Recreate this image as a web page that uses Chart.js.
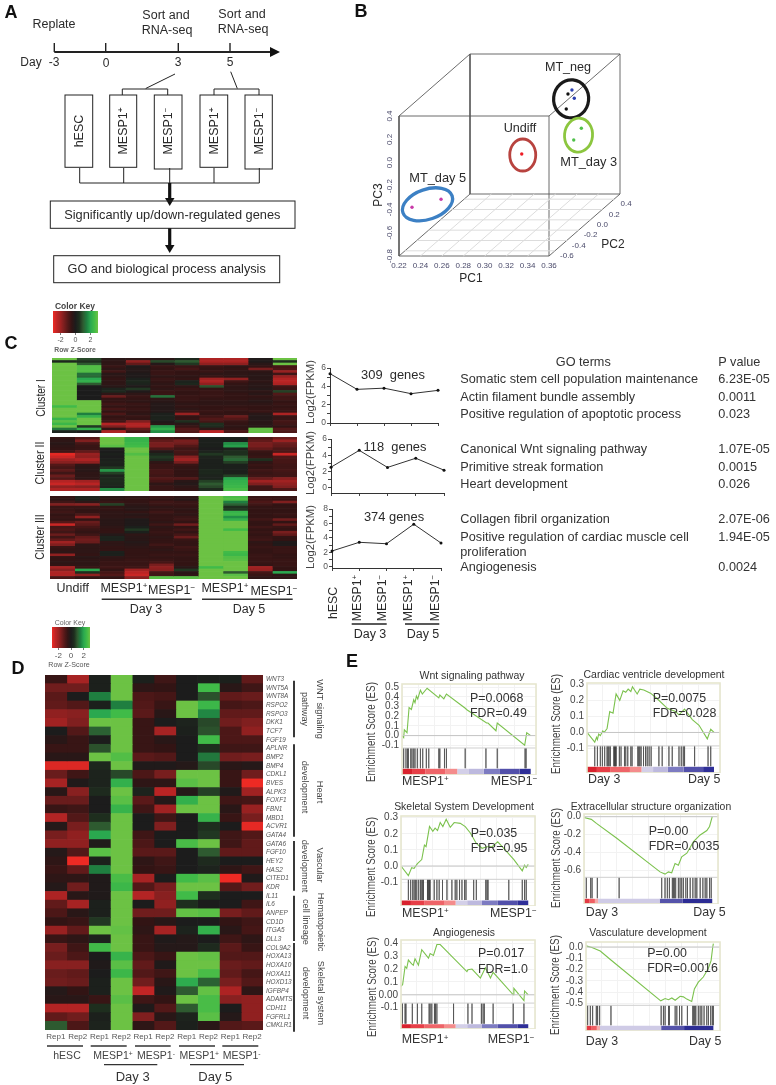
<!DOCTYPE html>
<html>
<head>
<meta charset="utf-8">
<script src="https://cdn.jsdelivr.net/npm/chart.js@4/dist/chart.umd.js"></script>
<style>
  html, body { margin: 0; background: #fff; }
  #page { position: relative; width: 776px; height: 1085px; overflow: hidden; font-family: "Liberation Sans", Arial, sans-serif; }
  #page canvas { position: absolute; }
  #page svg { position: absolute; left: 0; top: 0; pointer-events: none; }
  #page span { position: absolute; white-space: nowrap; line-height: 1; }
  sup { font-size: .65em; line-height: 0; vertical-align: baseline; position: relative; top: -.45em; }
</style>
</head>
<body>
<div id="page"></div>
<script>
// ---- panel B: PCA samples
const sampleGroup = ['MT_neg', 'MT_neg', 'MT_neg', 'MT_neg', 'MT_day3', 'MT_day3', 'Undiff', 'MT_day5', 'MT_day5'];
const samplePC1 = [0.3247, 0.3231, 0.3284, 0.3306, 0.3438, 0.3367, 0.2948, 0.2222, 0.2493];
const samplePC2 = [0.26, 0.26, 0.26, 0.26, 0.14, 0.14, 0.02, -0.52, -0.52];
const samplePC3 = [0.1635, 0.0349, 0.1978, 0.1266, -0.0774, -0.1777, -0.2445, -0.4623, -0.3937];
const pc1Ticks = [0.22, 0.24, 0.26, 0.28, 0.30, 0.32, 0.34, 0.36];
const pc2Ticks = [-0.6, -0.4, -0.2, 0.0, 0.2, 0.4];
const pc3Ticks = [-0.8, -0.6, -0.4, -0.2, 0.0, 0.2, 0.4];

// ---- panel C: line charts
const stageLabels = ['hESC', 'MESP1+', 'MESP1-', 'MESP1+', 'MESP1-'];
const cluster1Fpkm = [5.38, 3.67, 3.8, 3.2, 3.56];
const cluster2Fpkm = [2.53, 4.6, 2.5, 3.63, 2.16];
const cluster3Fpkm = [2.2, 3.4, 3.2, 5.9, 3.3];

// ---- panel C: heatmaps (row z-scores, 10 columns)
const cluster1Rows = [
  [3,.8,-.3,-.4,-.3,.3,-2.2,-2.2,-.1,3],
  [.3,.5,-.4,-1.8,.8,1,-2.2,-2.2,-.1,.5],
  [3,1,-.4,-1.2,-.2,.6,-1.8,-1.8,-.3,3],
  [3,2.7,-.6,-.1,-.6,-.6,-.6,-.4,-.5,-.8],
  [3,2.7,-.4,-.2,-.5,-.8,-.5,-.5,-1.5,-.9],
  [3,2.7,-.7,-.2,-.6,-.5,-.6,-.4,-.4,-1.9],
  [3,1.3,-.3,-.1,-.6,-.5,-.4,-.4,-.3,-.7],
  [3,1.2,-.4,-.1,-.4,-.4,-.6,-.4,-.3,-1.9],
  [3,2,-.5,.1,-.6,-.5,-2,-1.8,-.3,-2.3],
  [3,2.2,-.4,.3,-.5,.2,-2.2,-.7,-.4,-2.4],
  [3,1,-.4,.2,-.4,.3,-1.8,-.5,-.3,-2.2],
  [3,0,-.3,-.1,-.5,-.4,.9,-.4,-.3,-.7],
  [3,0,.2,.6,-.4,-.6,-.5,-.4,-.2,-.6],
  [3,0,.3,-.1,-.6,-.5,-.6,-.4,-.4,.7],
  [3,0,-.4,-.4,-.6,-.5,-.6,-.5,-.3,-1],
  [3,0,-1.3,-.6,1.3,-.6,-.6,-.5,-.5,-.7],
  [3,0,-.5,-.5,-.4,-.6,-.5,-.5,-.4,-.7],
  [3,3,-.5,-.4,-.3,-.5,-.4,-.4,-.3,-.5],
  [3,3,-.7,-.6,-.2,-.4,-.4,-.4,-.4,-.6],
  [2.5,3,-.5,-.5,-.2,-.5,-.5,-.5,-.5,-.5],
  [3,3,-.8,-.6,-.2,-.4,-.5,-.6,-.5,-.6],
  [3,3,-.5,-.5,-.2,-.6,-.6,-.5,-.6,-.6],
  [3,1.5,-.9,-.4,.1,-1.9,-.5,-.5,-.3,-2.2],
  [3,2.3,-.5,-.6,.2,-.5,-.7,-1.3,-.2,-.6],
  [2.3,3,-.6,-.5,.2,-.5,-1,-1,-.2,-.6],
  [2.8,3,-.7,-1.6,-.1,.5,-.8,-.6,-.3,-.8],
  [2.4,3,-2.3,-2.3,-.3,-.3,.5,-.5,-.3,-.7],
  [3,.6,-1.6,-2.2,1.8,-.6,.4,-.4,-.3,-.5],
  [1.4,2.2,-.5,-1.2,2.2,-1,-.4,-.5,2.9,-1],
  [.2,0,-2.2,-.8,1.7,-1,-2.4,-.9,2.9,-.9]
];
const cluster2Rows = [
  [-.5,-1,3,2.3,-.8,-.6,.1,.1,-.9,-1.3],
  [-.4,-1.6,3,2.3,-1.2,-1.5,.1,.1,-1.2,-1.9],
  [-.3,-.8,3,2.4,-1.5,-1.4,.1,1.7,-1.5,-1.3],
  [-.4,-.6,2.8,2.5,-1.5,-1,.1,1.9,-1.5,-1.2],
  [-.5,-.6,.1,3,-.9,-.7,0,.2,-1.2,-.9],
  [-.7,-1.2,0,3,-.2,-.8,.2,.5,-.6,-.9],
  [-2.9,-1.9,.1,2.7,.3,-.7,.6,.5,-.5,-2.6],
  [-2.6,-1.8,0,3,.6,-1.7,.2,1,-.6,-.9],
  [-2,-2.2,.1,3,.4,-2,.1,1.2,.5,-.8],
  [-1.7,-1.8,.2,3,-.4,-1.5,.1,.7,-.4,-.8],
  [-1,-.4,.1,3,-.6,-.6,.1,.1,-.6,-.7],
  [-.8,-.3,.6,3,-.6,-.5,.1,.1,-.5,-.7],
  [-1.1,-.3,1.8,3,-.8,-.5,.3,.1,-.7,-.8],
  [-.7,-.4,.7,3,-.8,-.5,.3,.1,-.6,-.7],
  [-1.3,-.4,.2,3,-.7,-.5,.2,.7,-.7,-.7],
  [-1,-.4,.4,3,-1,-1,.2,2,-1.3,-1.7],
  [-2.3,-2,.4,3,-.8,-.3,.7,2.2,-2,-2],
  [-2.6,-2.4,.3,3,-.4,-.2,1,2.3,-1.6,-1.8],
  [-1.8,-1.7,.2,3,-.6,-.4,.8,2.4,-.7,-1.6],
  [-2.2,-2.2,1.7,3,-.6,-.5,.4,2.6,-.7,-.9]
];
const cluster3Rows = [
  [-.5,.2,-.3,-.4,-.6,-.4,3,2.6,-.6,-.6],
  [-.4,.2,-.4,-.5,-.5,-.3,3,2.7,-.7,-.6],
  [-.7,-.4,-.6,-.5,-.7,-.6,3,1.5,-.9,-1.6],
  [-1.6,-1.7,.7,-.4,-.6,-.6,3,1.1,-.7,-.5],
  [-.6,-.6,-.5,-.3,-.4,-.5,3,.5,-.5,-.5],
  [-.6,-.5,-.5,-.3,-.5,-.4,3,.6,-.5,-.5],
  [-.7,-.5,-.4,-.5,-.7,-.5,3,2.3,-.5,-.5],
  [-.5,-.9,-.4,-.3,-.5,-.4,3,2.4,-.5,-.6],
  [-.6,-1.8,-.4,-.4,-.5,-.6,3,1.7,-.5,-.5],
  [-.5,-.5,-.3,-.1,-.5,-.7,3,2.2,-.7,-1.4],
  [-1,-1.3,-.3,-.1,-.4,-.5,3,3,-.5,-.5],
  [-2.6,-1.1,-.3,-.1,-.7,-1.4,3,3,-.5,-1.2],
  [-.8,-.8,-.4,.1,-.4,-.5,3,3,-.7,-.6],
  [-.9,-.6,-.5,.6,-.5,-.7,3,2.5,-.5,-.5],
  [-.7,-.5,-.5,.1,-.6,-.5,3,3,-.6,-1.5],
  [-1.3,-.7,-.2,-.4,-.5,-.8,3,3,-.5,-1.2],
  [-.7,-1.2,.2,-.3,-.4,-1.3,3,3,-.6,-.5],
  [-1.2,-1.4,.2,-.3,-.5,-.6,3,3,-.7,-.5],
  [-2,-1.3,-.4,-.2,-.5,-.5,3,3,-.4,-.1],
  [-1.6,-.4,-.4,-.3,-.7,-.5,3,3,-.5,-.1],
  [-.6,-.4,-.5,-.4,-.5,-.7,3,3,-.6,-.6],
  [-.5,-.4,-.5,-.5,-.4,-.6,3,3,-.5,-.6],
  [-.4,-.4,.1,-.5,-.5,-.5,3,2.5,-.5,-.6],
  [-1.8,-.5,.1,-.5,-.6,-.6,3,2.4,-.6,-.5],
  [-.5,-.3,-.4,-.5,-.5,-.5,3,2.7,-.6,-.5],
  [-.5,-.4,-.5,-.6,-.6,-.5,3,2.8,-.6,-.6],
  [-.4,-.4,-.6,-.6,-.8,-.5,3,3,-.6,-.6],
  [-.5,-.4,-.6,-.6,-1.5,-.5,3,3,-.5,-.6],
  [-2.1,-.6,-.7,-.7,-1.8,-.3,2.5,3,-2,-.5],
  [-1.7,2,-.5,-2,-1.7,.6,3,3,-1.9,-.5],
  [-2.2,.5,-.8,-2.4,-.8,-.3,3,1,-.8,2],
  [-2.2,-1.8,-1,-2.6,-.7,-.4,3,2.8,-.6,-.4],
  [-.8,-.5,-.5,-1.7,2.8,2.8,3,3,-.4,-.4]
];

// ---- panel D: gene heatmap
const geneNames = ['WNT3','WNT5A','WNT8A','RSPO2','RSPO3','DKK1','TCF7','FGF19','APLNR','BMP2','BMP4','CDKL1','BVES','ALPK3','FOXF1','FBN1','MBD1','ACVR1','GATA4','GATA6','FGF10','HEY2','HAS2','CITED1','KDR','IL11','IL6','ANPEP','CD1D','ITGA5','DLL3','COL9A2','HOXA13','HOXA10','HOXA11','HOXD13','IGFBP4','ADAMTS','CDH11','FGFRL1','CMKLR1'];
const repLabels = ['Rep1','Rep2','Rep1','Rep2','Rep1','Rep2','Rep1','Rep2','Rep1','Rep2'];
const geneRows = [
  [-.6,-2.1,.1,3,.1,-.7,0,.1,.1,-1.2],
  [-1.4,-1.4,.1,3,-.4,-.5,0,2.5,-.3,-.7],
  [-1.1,0,1.5,3,-.9,-.8,0,.9,-1.2,-1.3],
  [-1.2,-1,.1,1.5,-1,-.6,3,2.4,-.8,-.9],
  [-1.8,-1.7,2,2.5,-1.1,-.3,3,1.6,-1.2,-1.2],
  [-2,-1.6,3,3,-.6,0,.2,.8,-1.4,-1.6],
  [0,-1,1.1,3,-.6,-2.1,.1,.9,-.9,-1.8],
  [-.3,-.6,0,3,-.6,-.3,0,2.5,-.9,-.9],
  [-.6,-.6,.9,3,-.6,-.5,0,.5,-.7,-.7],
  [-.3,-.3,3,2.7,-1.1,-1,0,1.4,-1.4,-1.5],
  [-2.8,-2.8,.3,3,-.1,-.1,-.2,.8,-.3,-.2],
  [-1.3,-.7,.2,.8,-.9,-1.5,3,3,-.6,-1.4],
  [-2.1,-.1,.2,2.2,-.4,-.4,2.8,3,-.6,-3],
  [-.3,-1.7,.4,3,.2,-2.4,-.2,.7,-.1,-2],
  [-1.3,-1.3,0,2.8,-1.1,-.2,2.2,3,-.7,-.8],
  [-.6,-.7,0,2.3,-.7,-2,3,3,-.3,-1.9],
  [-2.3,-1,.5,3,0,-.7,0,2.3,-.6,-1.5],
  [-.2,-1.5,1,3,0,-1.6,0,.5,0,-2.9],
  [-1.5,-1.8,2,3,-.7,0,0,.6,-.7,-1],
  [-1.8,-1.8,-.1,3,-.9,0,2.6,3,-.7,-1.2],
  [-.2,-1,2.8,3,-1.1,-1.1,0,1,-1.2,-1.2],
  [-.4,-3,.1,3,-.4,-.7,0,.4,0,0],
  [-.6,-1.2,1.5,3,-.5,-.6,0,.2,-.4,-.7],
  [-.4,-.4,-.1,2.6,-2.1,0,2.5,2.8,-3,-.1],
  [-.2,-1.4,-.1,2.4,-1,-1.5,3,3,-1,-1.4],
  [-2.2,-.3,-.1,3,-2.3,-1.7,2.5,.5,0,0],
  [-1.2,-2.1,.1,3,0,-1.8,.5,0,0,-.7],
  [-.9,-.3,.1,3,-1.4,-1.4,2.9,2.8,-1.5,-1.2],
  [-.5,-.6,.6,3,-.5,-.3,0,0,-.5,-.7],
  [-1.9,-1.2,3,2.9,-.4,-2.1,.2,2.2,-.3,-.8],
  [-.6,-.4,.2,3,-.6,-.1,-.2,0,-.7,-.4],
  [-1.5,-.7,2.5,3,-.6,-.2,-.2,.4,-1.1,-.6],
  [-1.3,-.9,0,2.3,-.9,-.6,3,2.9,-1,-1],
  [-1.7,-1.7,-.1,2.8,-1.2,-.1,3,3,-1.3,-1.2],
  [-1.3,-1.2,0,2.4,-1,-.7,3,2.6,-1.2,-.8],
  [-1.4,-1.3,.1,3,-1.4,-.3,2.1,1.1,-1.5,-1],
  [-.2,-.5,.1,3,-2.5,-.1,1,2.9,-2.2,-.4],
  [-.3,-.3,-.6,2.8,-.7,-.5,3,2.6,-1.7,-1.8],
  [-2.3,-2.3,.5,3,-.1,-1,1,2.6,0,-1.8],
  [-1.2,-1.4,.1,3,-1.6,-.3,.2,2.8,-.2,-1.8],
  [1,-.9,.2,3,-.4,-1,.1,-.3,-1,-1.1]
];

// ---- panel E: enrichment curves [rank %, ES], hits in rank %
const wntCurve = [[0,0],[1.3,-.02],[1.8,.06],[3.9,.03],[5.5,.29],[7.3,.27],[9.1,.37],[10.1,.34],[11.2,.41],[12.2,.38],[14.3,.47],[15.8,.43],[19.5,.49],[28.6,.39],[29.4,.42],[32.5,.38],[34.5,.43],[49.4,.28],[50.1,.27],[65.7,.13],[66.8,.13],[73,.05],[74,.13],[95.3,-.1],[96.9,.03],[100,0]];
const wntHits = [1.3,3.1,4.4,4.9,6.8,7.8,9.1,10.1,11.9,14.3,16.1,18.9,20.8,28.6,29.4,33,34.5,49.1,65.2,74,95.6,96.4];
const ventricleCurve = [[0,0],[6.1,-.06],[7.5,-.03],[8.2,-.045],[9.2,-.01],[10.5,-.02],[12.4,.01],[13.5,0],[15.8,.025],[17.9,.13],[20.5,.12],[22.9,.24],[25.8,.2],[28.4,.26],[30.5,.25],[32.4,.27],[34.5,.255],[35.8,.285],[39.5,.24],[41.6,.27],[44.7,.265],[50,.245],[55.3,.21],[63.2,.15],[69.7,.13],[72.4,.11],[76.8,.145],[82.9,.08],[88.2,.045],[94.7,-.04],[97.4,.02],[100,0]];
const ventricleHits = [6.1,8.2,10.5,12.1,13.9,15.8,16.6,17.4,18.4,21.1,21.6,22.1,22.6,22.9,25.5,26.8,29.5,30.5,32.1,34.5,35.5,40,40.8,41.6,42.6,44.5,46.1,47.4,48.9,50.5,56.6,59.2,64.5,67.1,72.4,74.2,75.8,76.8,84.7,95.3,97.4];
const skeletalCurve = [[0,0],[5.8,-.06],[8.4,-.01],[10.3,-.015],[12.9,.015],[16.3,.04],[18.4,.13],[19.7,.12],[22.4,.245],[25,.215],[26.8,.235],[28.7,.22],[30.8,.27],[32.9,.245],[35.5,.29],[38.7,.24],[41.8,.27],[46.6,.265],[50.5,.245],[54.5,.205],[59.2,.14],[63.7,.11],[67.6,.12],[71.6,.12],[76,.15],[80.8,.11],[88.7,.04],[95.3,-.03],[97.1,.005],[98.4,-.01],[100,.01]];
const skeletalHits = [5.8,7.6,9.2,10.3,11.3,12.4,13.9,15.3,16.3,17.1,17.6,20.8,21.3,21.8,22.4,22.9,26.1,28.2,30,32.6,36.1,40,42.6,43.9,46,47.9,50,51.1,57.1,59.2,66.6,67.6,68.4,84.7,95.3,97.1,98.4];
const matrixCurve = [[0,-.01],[5.7,-.03],[9.7,-.075],[25.3,-.24],[59.3,-.62],[63.2,-.645],[65.8,-.62],[68.4,-.63],[71,-.525],[73.6,-.545],[76.2,-.45],[80.2,-.41],[85.4,-.28],[90.6,-.205],[95.8,-.155],[97.9,-.11],[100,0]];
const matrixHits = [1.8,5.2,6.3,10.4,27.4,60.6,63.2,65,66.6,68.9,69.7,70.5,71.5,73.6,74.9,76.2,77.5,79.4,80.7,82.8,84.9,86.7,88,90.6,92.7,94.5,95.8,97.9,99.2];
const angioCurve = [[0,.065],[1.3,.08],[3.2,.22],[4.5,.205],[5.8,.27],[8.4,.24],[9.7,.23],[11,.28],[13.7,.23],[16.3,.35],[21.6,.285],[22.9,.32],[25.5,.305],[28.2,.39],[30.8,.39],[41.3,.285],[51.8,.18],[52.6,.195],[55.8,.2],[62.4,.13],[66.3,.21],[70.3,.13],[72.4,.175],[88.2,0],[88.7,.05],[96.6,-.045],[97.1,.03],[100,0]];
const angioHits = [1.1,3.2,3.9,8.9,12.9,16.3,22.1,22.9,24.2,26.3,27.1,28.2,41.3,52.6,55.8,63.2,64.5,65.5,72.4,88.2,96.6];
const vasculCurve = [[0,.01],[4.7,-.005],[11.2,-.035],[19.1,-.11],[58.7,-.475],[62.1,-.455],[64.8,-.465],[67.4,-.45],[70,-.47],[73.9,-.435],[76.5,-.44],[79.1,-.46],[83,-.48],[85.1,-.37],[88.2,-.31],[92.1,-.265],[96,-.19],[98.2,-.12],[99.5,0],[100,.03]];
const vasculHits = [1.3,3.4,5.2,8.1,9.1,10.7,19.6,59,60.8,62.1,64.8,65.5,70,71.3,73.4,75.2,79.6,83.8,84.6,85.4,86.2,88.2,89.6,90.9,92.7,94.8,96.1,97.9,99.2,100];
const rankStops = [0,7.8,18.2,33.8,42.9,52,63.6,76.1,91.4,100];
const rankColors = ['#d8222d','#e73f47','#ee6468','#f48c8c','#d3cfe8','#bdb9de','#7d7bc1','#5250aa','#2f2f98'];
const rankStopsSteep = [0,4,8.5,11,59,77,100];
const rankColorsSteep = ['#e33a44','#ef5f63','#f5aaaa','#cfcbe6','#5553aa','#2c2c94'];

// ---- GO table
const goTerms = ['Somatic stem cell population maintenance','Actin filament bundle assembly','Positive regulation of apoptotic process','Canonical Wnt signaling pathway','Primitive streak formation','Heart development','Collagen fibril organization','Positive regulation of cardiac muscle cell','proliferation','Angiogenesis'];
const goPvalues = ['6.23E-05','0.0011','0.023','1.07E-05','0.0015','0.026','2.07E-06','1.94E-05','','0.0024'];

// z-score colour ramp
const zStops = [-3,-2.5,-2,-1.5,-1,-.5,0,.5,1,1.5,2,2.5,3];
const zRgb = [[238,42,36],[192,37,37],[160,34,34],[120,30,30],[82,24,24],[50,20,20],[28,28,28],[30,46,30],[46,90,48],[31,127,64],[42,168,79],[64,187,72],[108,194,68]];

function zColor(z) {
  let i = 0;
  while (i < zStops.length - 2 && z > zStops[i + 1]) i++;
  const f = Math.min(1, Math.max(0, (z - zStops[i]) / (zStops[i + 1] - zStops[i])));
  const c = zRgb[i].map((v, k) => Math.round(v + (zRgb[i + 1][k] - v) * f));
  return `rgb(${c[0]},${c[1]},${c[2]})`;
}

Chart.defaults.font.family = '"Liberation Sans", Arial, sans-serif';
Chart.defaults.animation = false;
Chart.defaults.responsive = false;
Chart.defaults.plugins.legend.display = false;
Chart.defaults.plugins.tooltip.enabled = false;

const page = document.getElementById('page');

// canvas whose chart area lands on a given box of the page
function makeCanvas(area, m) {
  const c = document.createElement('canvas');
  c.width = Math.round(area.r - area.l + m.l + m.r);
  c.height = Math.round(area.b - area.t + m.t + m.b);
  c.style.left = (area.l - m.l) + 'px';
  c.style.top = (area.t - m.t) + 'px';
  page.appendChild(c);
  return c;
}

// axis box of a fixed size, no overflow padding eating the chart area
const fixSize = (w, h) => s => {
  if (w !== null) s.width = w;
  if (h !== null) s.height = h;
  s.paddingTop = s.paddingBottom = s.paddingLeft = s.paddingRight = 0;
};

function label(html, x, y, size, o = {}) {
  const s = document.createElement('span');
  s.innerHTML = html;
  s.style.left = x + 'px';
  s.style.top = y + 'px';
  s.style.fontSize = size + 'px';
  s.style.color = o.color || '#2a2a2a';
  if (o.bold) s.style.fontWeight = 'bold';
  const tx = o.left ? '0' : '-50%';
  s.style.transform = `translate(${tx},-50%) rotate(${o.rot || 0}deg)`;
  page.appendChild(s);
  if (o.w) s.style.transform += ` scaleX(${o.w / s.offsetWidth})`;
  return s;
}

// ---- heatmaps: stacked bars, one unit wide per cell
function heatmap(area, rows, names, m = { l: 0, r: 0, t: 0, b: 0 }, withAxes = false) {
  const cols = rows[0].map((_, c) => c);
  const cv = makeCanvas(area, m);
  if (!withAxes) cv.style.filter = 'blur(0.5px)';
  return new Chart(cv, {
    type: 'bar',
    data: {
      labels: names || rows.map((_, i) => i),
      datasets: cols.map(c => ({
        data: rows.map(() => 1),
        backgroundColor: rows.map(r => zColor(r[c])),
        barPercentage: 1, categoryPercentage: 1, borderWidth: 0
      }))
    },
    options: {
      indexAxis: 'y',
      layout: { padding: { top: m.t, right: 0, left: 0, bottom: 0 } },
      scales: {
        x: {
          stacked: true, min: 0, max: cols.length, display: withAxes,
          afterBuildTicks: s => { s.ticks = cols.map(c => ({ value: c + .5 })); },
          afterFit: withAxes ? fixSize(null, m.b) : undefined,
          grid: { display: false, drawTicks: false }, border: { display: false },
          ticks: { autoSkip: false, maxRotation: 0, font: { size: 8 }, color: '#555', padding: 2,
            callback: v => repLabels[Math.floor(v)] }
        },
        y: {
          stacked: true, position: 'right', display: withAxes,
          afterFit: withAxes ? fixSize(m.r, null) : undefined,
          grid: { display: false, drawTicks: false }, border: { display: false },
          ticks: { autoSkip: false, font: { family: '"Liberation Sans Narrow", "Liberation Sans", Arial, sans-serif', size: 6.4, style: 'italic' }, color: '#555', padding: 3 }
        }
      }
    }
  });
}

heatmap({ l: 51.7, r: 296.7, t: 358, b: 432.7 }, cluster1Rows);
heatmap({ l: 50, r: 296.7, t: 437.3, b: 491 }, cluster2Rows);
heatmap({ l: 50, r: 296.7, t: 496, b: 579.3 }, cluster3Rows);
heatmap({ l: 45.3, r: 263, t: 675, b: 1030 }, geneRows, geneNames, { l: 0, r: 37, t: 0, b: 14 }, true);

// ---- colour keys: one floating bar over the z axis
function colorKey(area, tickSize) {
  const m = { l: 3, r: 3, t: 0, b: tickSize + 6 };
  return new Chart(makeCanvas(area, m), {
    type: 'bar',
    data: { labels: ['z'], datasets: [{
      data: [[-3, 3]], barPercentage: 1, categoryPercentage: 1, borderWidth: 0,
      backgroundColor: c => {
        const ca = c.chart.chartArea;
        if (!ca) return '#000';
        const g = c.chart.ctx.createLinearGradient(ca.left, 0, ca.right, 0);
        zStops.forEach(z => g.addColorStop((z + 3) / 6, zColor(z)));
        return g;
      }
    }] },
    options: {
      indexAxis: 'y',
      layout: { padding: { left: m.l, right: m.r } },
      scales: {
        x: { min: -3, max: 3,
          afterBuildTicks: s => { s.ticks = [-2, 0, 2].map(v => ({ value: v })); },
          afterFit: fixSize(null, m.b),
          grid: { display: true, drawOnChartArea: false, tickLength: 2, color: '#777' }, border: { display: false },
          ticks: { font: { size: tickSize }, color: '#555', padding: 1, maxRotation: 0 } },
        y: { display: false }
      }
    }
  });
}
colorKey({ l: 53, r: 97.5, t: 311, b: 333 }, 7);
colorKey({ l: 51.7, r: 89.3, t: 627, b: 648 }, 8);

// ---- panel C line charts
function fpkmLine(area, values, yMin, yMax) {
  const m = { l: 12, r: 5, t: 6, b: 6 };
  return new Chart(makeCanvas(area, m), {
    type: 'line',
    data: { labels: stageLabels, datasets: [{
      data: values, borderColor: '#333', borderWidth: 1, tension: 0, clip: false,
      pointRadius: 1.5, pointBackgroundColor: '#111', pointBorderWidth: 0
    }] },
    options: {
      layout: { padding: { top: m.t, right: m.r } },
      scales: {
        x: { offset: false, afterFit: fixSize(null, m.b),
          grid: { drawOnChartArea: false, tickLength: 3, color: '#444' }, border: { color: '#333' },
          ticks: { display: false } },
        y: { min: yMin, max: yMax, afterFit: fixSize(m.l, null),
          grid: { drawOnChartArea: false, tickLength: 3, color: '#444' }, border: { color: '#333' },
          ticks: { stepSize: 1, includeBounds: false, autoSkip: false, font: { size: 8.5 }, color: '#555', padding: 1,
            callback: v => (Number.isInteger(v) && v % 2 === 0) ? v : '' } }
      }
    }
  });
}
fpkmLine({ l: 330, r: 438.3, t: 367.7, b: 422.7 }, cluster1Fpkm, 0, 6);
fpkmLine({ l: 331, r: 444.3, t: 439.3, b: 493.3 }, cluster2Fpkm, -0.65, 6);
fpkmLine({ l: 331.7, r: 440.7, t: 509, b: 567.7 }, cluster3Fpkm, -0.15, 8);

// ---- panel B: oblique projection of PC1/PC2/PC3 on the chart plane
const depthU = 71 / 150 * 0.14, depthV = 62 / 140 * 1.2;
function project(pc1, pc2, pc3) {
  const t = (pc2 + 0.7) / 1.2;
  return { x: pc1 + t * depthU, y: pc3 + t * depthV };
}
function pcaLine(a, color, width) {
  return { type: 'line', data: a.map(p => project(p[0], p[1], p[2])), borderColor: color, borderWidth: width,
    pointRadius: 0, showLine: true, clip: false };
}
const loX = 0.22, hiX = 0.36, loY = -0.7, hiY = 0.5, loZ = -0.8, hiZ = 0.4;
const pcaDatasets = [];
pc1Ticks.slice(1, -1).forEach(v => pcaDatasets.push(pcaLine([[v, loY, loZ], [v, hiY, loZ]], '#dcdcdc', 1)));
pc2Ticks.forEach(v => pcaDatasets.push(pcaLine([[loX, v, loZ], [hiX, v, loZ]], '#dcdcdc', 1)));
[
  [[loX, loY, loZ], [hiX, loY, loZ], [hiX, loY, hiZ], [loX, loY, hiZ], [loX, loY, loZ]],
  [[loX, hiY, loZ], [hiX, hiY, loZ], [hiX, hiY, hiZ], [loX, hiY, hiZ], [loX, hiY, loZ]],
  [[loX, loY, loZ], [loX, hiY, loZ]], [[hiX, loY, loZ], [hiX, hiY, loZ]],
  [[loX, loY, hiZ], [loX, hiY, hiZ]], [[hiX, loY, hiZ], [hiX, hiY, hiZ]]
].forEach(e => pcaDatasets.push(pcaLine(e, '#5a5a5a', 0.9)));
pcaDatasets.push({
  type: 'scatter',
  data: samplePC1.map((v, i) => project(v, samplePC2[i], samplePC3[i])),
  pointRadius: 1.7, pointBorderWidth: 0, clip: false,
  pointBackgroundColor: ['#111', '#111', '#2b3fb0', '#2b3fb0', '#4fc04a', '#4fc04a', '#ee1c25', '#c83aa8', '#c83aa8']
});
const groupRings = [
  { name: 'MT_neg', rx: 17.5, ry: 19, rot: 0.1, color: '#1a1a1a', width: 3.2 },
  { name: 'MT_day3', rx: 14, ry: 17, rot: 0.1, color: '#8cc63f', width: 2.8 },
  { name: 'Undiff', rx: 13, ry: 16, rot: 0, color: '#b8433f', width: 2.8 },
  { name: 'MT_day5', rx: 26, ry: 15, rot: -0.33, color: '#3c80c4', width: 3.3 }
];
const pcaExtras = {
  id: 'pcaExtras',
  afterDatasetsDraw(chart) {
    const { ctx, scales: { x, y } } = chart;
    groupRings.forEach(g => {
      const idx = sampleGroup.map((n, i) => n === g.name ? i : -1).filter(i => i >= 0);
      const pts = idx.map(i => project(samplePC1[i], samplePC2[i], samplePC3[i]));
      const cx = pts.reduce((s, p) => s + x.getPixelForValue(p.x), 0) / pts.length;
      const cy = pts.reduce((s, p) => s + y.getPixelForValue(p.y), 0) / pts.length;
      ctx.beginPath();
      ctx.ellipse(cx + 1, cy + 1, g.rx, g.ry, g.rot, 0, Math.PI * 2);
      ctx.strokeStyle = g.color;
      ctx.lineWidth = g.width;
      ctx.stroke();
    });
    ctx.font = '8px "Liberation Sans", Arial, sans-serif';
    ctx.fillStyle = '#4a4a6a';
    ctx.textAlign = 'center';
    ctx.textBaseline = 'middle';
    pc2Ticks.forEach(v => {
      const p = project(hiX, v, loZ);
      ctx.fillText(v.toFixed(1), x.getPixelForValue(p.x) + 12, y.getPixelForValue(p.y) + 5);
    });
  }
};
const pcaMargins = { l: 18, r: 24, t: 8, b: 18 };
new Chart(makeCanvas({ l: 399, r: 620, t: 55, b: 256 }, pcaMargins), {
  type: 'scatter',
  data: { datasets: pcaDatasets },
  plugins: [pcaExtras],
  options: {
    layout: { padding: { top: pcaMargins.t, right: pcaMargins.r } },
    scales: {
      x: { min: 0.22, max: 0.22 + 221 / 150 * 0.14,
        afterBuildTicks: s => { s.ticks = pc1Ticks.map(v => ({ value: v })); },
        afterFit: fixSize(null, pcaMargins.b),
        grid: { display: false, drawTicks: false }, border: { display: false },
        ticks: { maxRotation: 0, autoSkip: false, font: { size: 8 }, color: '#4a4a6a', padding: 5, callback: v => v.toFixed(2) } },
      y: { min: -0.8, max: -0.8 + 201 / 140 * 1.2,
        afterBuildTicks: s => { s.ticks = pc3Ticks.map(v => ({ value: v })); },
        afterFit: fixSize(pcaMargins.l, null),
        grid: { display: false, drawTicks: false }, border: { display: false },
        ticks: { minRotation: 90, maxRotation: 90, crossAlign: 'center', autoSkip: false, font: { size: 8 }, color: '#4a4a6a', padding: 2, callback: v => v.toFixed(1) } }
    }
  }
});

// ---- panel E: enrichment plots
const frameEdge = {
  id: 'frameEdge',
  afterDraw(chart) {
    const { ctx, chartArea: a } = chart;
    ctx.strokeStyle = '#e6e6cf';
    ctx.lineWidth = 1.6;
    ctx.strokeRect(a.left, a.top, a.right - a.left, a.bottom - a.top);
  }
};
function esPlot(p) {
  const m = { l: 34, r: 2, t: 8, b: 0 };
  const toES = px => (p.zero - px) / p.unit;
  const sets = [];
  const base = { pointRadius: 0, clip: false };
  // rank colour band
  const bandY = toES((p.bandTop + p.box.b) / 2);
  p.colors.forEach((col, i) => sets.push({ ...base, data: [{ x: p.stops[i], y: bandY }, { x: p.stops[i + 1], y: bandY }],
    borderColor: col, borderWidth: p.box.b - p.bandTop - 1, borderCapStyle: 'butt' }));
  // zero line and rug top line
  sets.push({ ...base, data: [{ x: 0, y: 0 }, { x: p.xMax, y: 0 }], borderColor: '#c4c4c4', borderWidth: 1 });
  sets.push({ ...base, data: [{ x: 0, y: toES(p.rugTop) }, { x: p.xMax, y: toES(p.rugTop) }], borderColor: '#cfcfcf', borderWidth: 1 });
  // gene hits
  const rug = [];
  p.hits.forEach(h => rug.push({ x: h, y: toES(p.rugTop) }, { x: h, y: toES(p.bandTop) }, { x: h, y: NaN }));
  sets.push({ ...base, data: rug, borderColor: 'rgba(60,60,60,.55)', borderWidth: 0.9, spanGaps: false });
  // running score
  sets.push({ ...base, data: p.curve.map(c => ({ x: c[0], y: c[1] })), borderColor: '#7cc24e', borderWidth: 1.1 });
  return new Chart(makeCanvas(p.box, m), {
    type: 'line',
    data: { datasets: sets },
    plugins: [frameEdge],
    options: {
      layout: { padding: { top: m.t, right: m.r } },
      scales: {
        x: { type: 'linear', min: 0, max: p.xMax, afterFit: fixSize(null, 0),
          grid: { color: '#f2f2f2', drawTicks: false }, border: { display: false },
          ticks: { display: false, stepSize: 12.5 } },
        y: { min: toES(p.box.b), max: toES(p.box.t), afterFit: fixSize(m.l, null),
          afterBuildTicks: s => { s.ticks = p.ticks.map(v => ({ value: v })); },
          grid: { color: '#f2f2f2', drawTicks: false }, border: { display: false },
          ticks: { autoSkip: false, font: { size: 10 }, color: '#444', padding: 3,
            callback: v => (v === 0 && p.zeroText) ? p.zeroText : v.toFixed(1) } }
      }
    }
  });
}
esPlot({ box: { l: 401.7, r: 536, t: 684, b: 775 }, zero: 735.6, unit: 96.7, rugTop: 748, bandTop: 768.3, xMax: 104.1,
  curve: wntCurve, hits: wntHits, stops: rankStops, colors: rankColors, ticks: [.5, .4, .3, .2, .1, 0, -.1] });
esPlot({ box: { l: 586.7, r: 719.3, t: 683, b: 772.7 }, zero: 732.3, unit: 160, rugTop: 745.7, bandTop: 766, xMax: 104.7,
  curve: ventricleCurve, hits: ventricleHits, stops: rankStops, colors: rankColors, ticks: [.3, .2, .1, 0, -.1] });
esPlot({ box: { l: 401, r: 535, t: 816, b: 906 }, zero: 866, unit: 161, rugTop: 879.3, bandTop: 900, xMax: 105.3,
  curve: skeletalCurve, hits: skeletalHits, stops: rankStops, colors: rankColors, ticks: [.3, .2, .1, 0, -.1] });
esPlot({ box: { l: 584.3, r: 718.3, t: 814, b: 904 }, zero: 816.7, unit: 89, rugTop: 877.3, bandTop: 898.3, xMax: 104.5,
  curve: matrixCurve, hits: matrixHits, stops: rankStopsSteep, colors: rankColorsSteep, ticks: [0, -.2, -.4, -.6] });
esPlot({ box: { l: 401, r: 535, t: 940, b: 1029.3 }, zero: 995, unit: 129.3, rugTop: 1003.3, bandTop: 1024, xMax: 105.3, zeroText: '0.00',
  curve: angioCurve, hits: angioHits, stops: rankStops, colors: rankColors, ticks: [.4, .3, .2, .1, 0, -.1] });
esPlot({ box: { l: 585.7, r: 720, t: 941.7, b: 1030.7 }, zero: 946.7, unit: 113.3, rugTop: 1005, bandTop: 1025, xMax: 105.2,
  curve: vasculCurve, hits: vasculHits, stops: rankStopsSteep, colors: rankColorsSteep, ticks: [0, -.1, -.2, -.3, -.4, -.5] });

// ---- diagram lines (schematic of panel A, brackets)
const svgNS = 'http://www.w3.org/2000/svg';
const svg = document.createElementNS(svgNS, 'svg');
svg.setAttribute('width', 776);
svg.setAttribute('height', 1085);
page.appendChild(svg);
function seg(x1, y1, x2, y2, w = 1, color = '#222') {
  const l = document.createElementNS(svgNS, 'line');
  [['x1', x1], ['y1', y1], ['x2', x2], ['y2', y2], ['stroke', color], ['stroke-width', w]].forEach(a => l.setAttribute(a[0], a[1]));
  svg.appendChild(l);
}
function box(x1, y1, x2, y2, w = 1) {
  const r = document.createElementNS(svgNS, 'rect');
  [['x', x1], ['y', y1], ['width', x2 - x1], ['height', y2 - y1], ['fill', 'none'], ['stroke', '#222'], ['stroke-width', w]].forEach(a => r.setAttribute(a[0], a[1]));
  svg.appendChild(r);
}
function tri(points) {
  const t = document.createElementNS(svgNS, 'polygon');
  t.setAttribute('points', points);
  t.setAttribute('fill', '#111');
  svg.appendChild(t);
}

// panel letters
label('A', 11, 12, 18, { bold: true, color: '#111' });
label('B', 361, 11, 18, { bold: true, color: '#111' });
label('C', 11, 343, 18, { bold: true, color: '#111' });
label('D', 18, 668, 18, { bold: true, color: '#111' });
label('E', 352, 661, 18, { bold: true, color: '#111' });

// panel A
seg(54.3, 52, 272, 52, 2);
tri('270,47 280,52 270,57');
[54.3, 105.7, 178.3, 230].forEach(x => seg(x, 43, x, 52, 1.4));
label('Replate', 54, 24, 12.5);
label('Sort and', 166, 15, 12.5);
label('RNA-seq', 167, 30, 12.5);
label('Sort and', 242, 14, 12.5);
label('RNA-seq', 243, 29, 12.5);
label('Day', 31, 62, 12);
label('-3', 54, 62, 12);
label('0', 106, 63, 12);
label('3', 178, 62, 12);
label('5', 230, 62, 12);
seg(175, 74, 145.7, 88.5);
seg(230.7, 71.7, 237.3, 88.5);
[[122.3, 167.7], [214, 259]].forEach(b => {
  seg(b[0], 89, b[1], 89);
  seg(b[0], 89, b[0], 95);
  seg(b[1], 89, b[1], 95);
});
const flowBoxes = [[65, 92.7, 167.3, 'hESC'], [109.7, 136.7, 167.3, 'MESP1<sup><b>+</b></sup>'], [154.3, 182, 169, 'MESP1<sup>\u2212</sup>'], [200, 227.7, 167.3, 'MESP1<sup><b>+</b></sup>'], [245, 272.3, 169, 'MESP1<sup>\u2212</sup>']];
flowBoxes.forEach(b => {
  box(b[0], 95, b[1], b[2]);
  label(b[3], (b[0] + b[1]) / 2, 131, 12.5, { rot: -90 });
});
[79.7, 123.7, 169.7, 214, 259.3].forEach(x => seg(x, 168, x, 183));
seg(79.7, 183, 259.3, 183);
seg(169.7, 183, 169.7, 200, 3.2, '#111');
tri('165,198 174.5,198 169.7,206');
box(50.3, 201, 295, 228.3);
label('Significantly up/down-regulated genes', 172.3, 215, 12.8);
seg(169.7, 228.3, 169.7, 247, 3.2, '#111');
tri('165,245 174.5,245 169.7,253');
box(53.7, 255.7, 279.7, 282.7);
label('GO and biological process analysis', 166.7, 269, 12.7);

// panel B text
label('MT_neg', 568, 66.7, 12.6);
label('Undiff', 520, 128, 12.6);
label('MT_day 3', 588.7, 162, 12.8);
label('MT_day 5', 437.7, 178, 12.8);
label('PC3', 377.7, 195, 12, { rot: -90 });
label('PC1', 471, 278, 12);
label('PC2', 613, 244, 12);

// panel C text
label('Color Key', 75, 305.5, 8.5, { bold: true, color: '#444' });
label('Row Z-Score', 75, 350, 6.8, { bold: true, color: '#666' });
label('Cluster I', 41, 398, 12.5, { rot: -90, w: 38 });
label('Cluster II', 40, 463, 12.5, { rot: -90, w: 43 });
label('Cluster III', 40, 537, 12.5, { rot: -90, w: 46 });
label('Undiff', 72.7, 588, 12.5);
label('MESP1<sup>+</sup>', 124, 588, 12.5);
label('MESP1<sup>\u2212</sup>', 171.7, 590, 12.5);
label('MESP1<sup>+</sup>', 225, 588, 12.5);
label('MESP1<sup>\u2212</sup>', 274, 591, 12.5);
seg(101.7, 599.3, 191.7, 599.3, 1.5, '#333');
seg(202, 599.3, 292.7, 599.3, 1.5, '#333');
label('Day 3', 146, 609, 12.5);
label('Day 5', 249, 609, 12.5);
[392, 463, 537].forEach(y => label('Log2(FPKM)', 310.7, y, 11.3, { rot: -90, color: '#444' }));
label('309&nbsp; genes', 393, 375, 12.9);
label('118&nbsp; genes', 395, 447, 12.9);
label('374 genes', 394, 516.7, 12.9);
label(stageLabels[0], 333, 603, 12.3, { rot: -90 });
label('MESP1<sup>+</sup>', 356.7, 598, 12.3, { rot: -90 });
label('MESP1<sup>\u2212</sup>', 382, 598, 12.3, { rot: -90 });
label('MESP1<sup>+</sup>', 408, 598, 12.3, { rot: -90 });
label('MESP1<sup>\u2212</sup>', 435, 598, 12.3, { rot: -90 });
seg(351.7, 624, 386.7, 624, 1.4, '#222');
seg(405, 624, 439.3, 624, 1.4, '#222');
label('Day 3', 370, 634, 12.5);
label('Day 5', 423, 634, 12.5);

// GO table
label('GO terms', 583.3, 361.7, 12.7, { color: '#333' });
label('P value', 718.3, 361.7, 12.7, { left: true, color: '#333' });
const goRowY = [379.3, 396.7, 414, 449.3, 466.7, 484, 519.3, 536.7, 552, 567.3];
goTerms.forEach((t, i) => {
  label(t, 460.3, goRowY[i], 12.7, { left: true, color: '#333' });
  if (goPvalues[i]) label(goPvalues[i], 718.3, goRowY[i], 12.7, { left: true, color: '#333' });
});

// panel D text
label('Color Key', 70, 622, 7, { color: '#666' });
label('Row Z-Score', 69, 666, 7.1, { color: '#555' });
[[680.7, 737.3], [744.3, 836.7], [841, 890.7], [895.7, 941], [943, 1031.7]].forEach(b => seg(294, b[0], 294, b[1], 1.8, '#222'));
const sideLabels = [
  ['WNT signaling', 319.3, 709], ['pathway', 304, 709], ['Heart', 319.3, 792], ['development', 304, 787],
  ['Vascular', 319.3, 865], ['development', 304, 866], ['Hematopoietic', 320, 921.7], ['cell lineage', 304.7, 921.7],
  ['Skeletal system', 320, 993], ['development', 305, 993]
];
sideLabels.forEach(s => label(s[0], s[1], s[2], 9.2, { rot: 90, color: '#444' }));
[[47, 83], [90.7, 126.7], [135, 170.7], [179, 215], [222.3, 258.3]].forEach(b => seg(b[0], 1046, b[1], 1046, 1.3, '#333'));
label('hESC', 67, 1055, 10.5, { color: '#444' });
label('MESP1<sup>+</sup>', 113, 1055, 10.5, { color: '#444' });
label('MESP1<sup>-</sup>', 156, 1055, 10.5, { color: '#444' });
label('MESP1<sup>+</sup>', 199.3, 1055, 10.5, { color: '#444' });
label('MESP1<sup>-</sup>', 241.7, 1055, 10.5, { color: '#444' });
seg(104, 1064.7, 157.3, 1064.7, 1.3, '#333');
seg(190, 1064.7, 244, 1064.7, 1.3, '#333');
label('Day 3', 132.7, 1076, 13, { color: '#333' });
label('Day 5', 215.3, 1076, 13, { color: '#333' });

// panel E text
const plotTitles = [
  ['Wnt signaling pathway', 471.7, 675, 105], ['Cardiac ventricle development', 654, 674, 141],
  ['Skeletal System Development', 464, 805.7, 140], ['Extracellular structure organization', 651, 806, 160],
  ['Angiogenesis', 464, 931.7, 62], ['Vasculature development', 648, 932.3, 117]
];
plotTitles.forEach(t => label(t[0], t[1], t[2], 11, { color: '#333', w: t[3] }));
[[371, 731.7], [556, 724], [371, 866.7], [556, 858], [371.7, 986.7], [555, 985]].forEach(p =>
  label('Enrichment Score (ES)', p[0], p[1], 12, { rot: -90, color: '#444', w: 100 }));
const statNotes = [
  ['P=0.0068', 470, 698], ['FDR=0.49', 470, 713], ['P=0.0075', 652.7, 698], ['FDR=0.028', 652.7, 713],
  ['P=0.035', 470.7, 832.7], ['FDR=0.95', 470.7, 848.3], ['P=0.00', 648.7, 830.7], ['FDR=0.0035', 648.7, 846],
  ['P=0.017', 478, 953.3], ['FDR=1.0', 478, 969], ['P=0.00', 647.3, 953.3], ['FDR=0.0016', 647.3, 968.3]
];
statNotes.forEach(s => label(s[0], s[1], s[2], 12.4, { left: true, color: '#333' }));
const phenoNotes = [
  ['MESP1<sup>+</sup>', 402, 780.7], ['MESP1<sup>\u2212</sup>', 490.7, 780.7], ['Day 3', 588, 779], ['Day 5', 688, 779],
  ['MESP1<sup>+</sup>', 402, 912.7], ['MESP1<sup>\u2212</sup>', 490, 913], ['Day 3', 585.7, 912.3], ['Day 5', 693.3, 912.3],
  ['MESP1<sup>+</sup>', 401.7, 1039.3], ['MESP1<sup>\u2212</sup>', 487.7, 1039.3], ['Day 3', 585.7, 1040.7], ['Day 5', 689, 1040.7]
];
phenoNotes.forEach(s => label(s[0], s[1], s[2], 12.4, { left: true, color: '#333' }));
</script>
</body>
</html>
